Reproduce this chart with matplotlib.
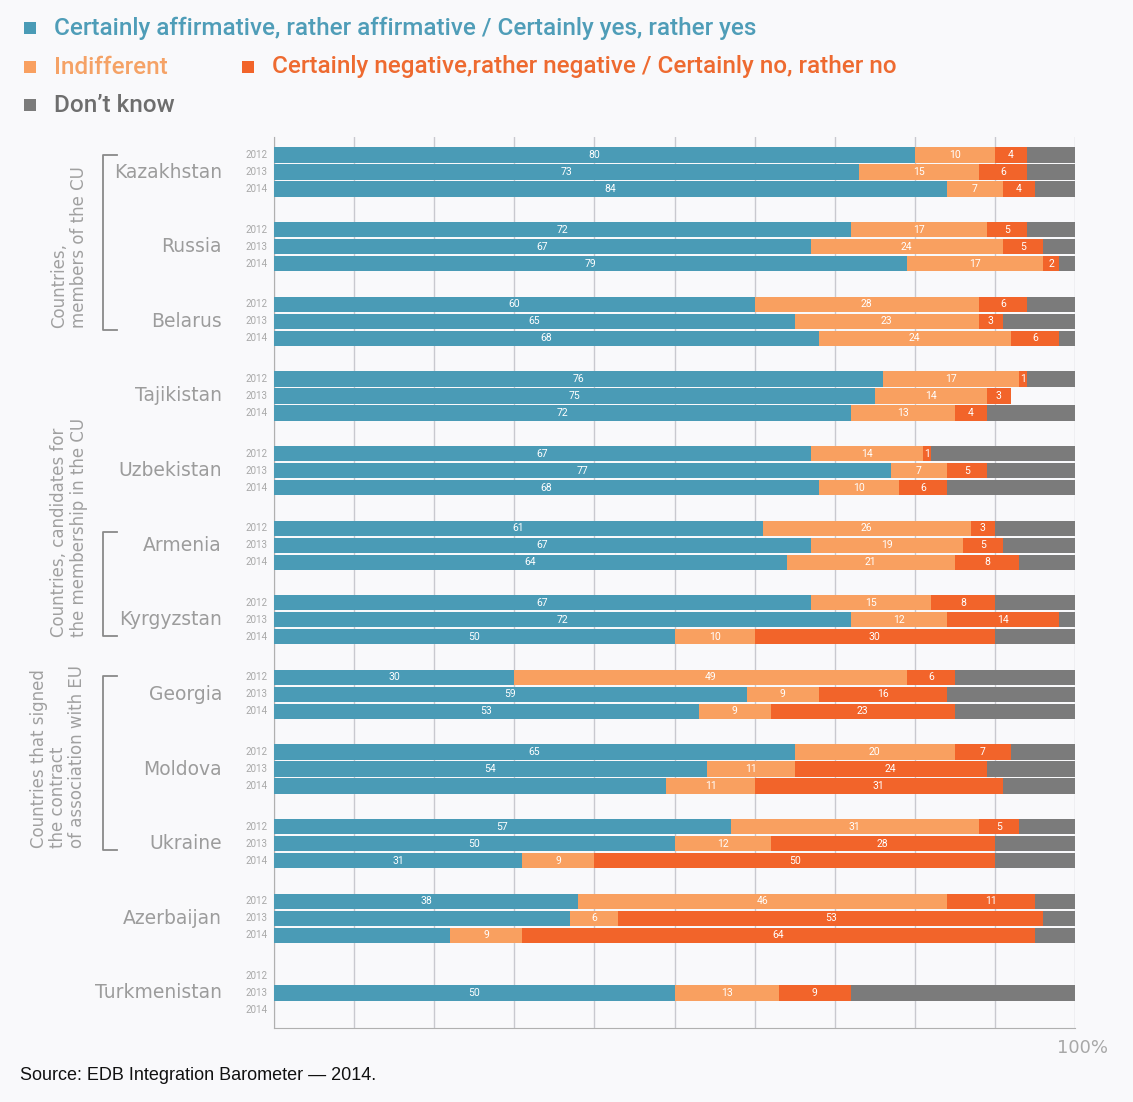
import matplotlib
matplotlib.use('Agg')
import matplotlib.pyplot as plt
from matplotlib.patches import Rectangle
from matplotlib.lines import Line2D

# ---- survey data (shares, %) ----
countries = ['Kazakhstan', 'Russia', 'Belarus', 'Tajikistan', 'Uzbekistan',
             'Armenia', 'Kyrgyzstan', 'Georgia', 'Moldova', 'Ukraine',
             'Azerbaijan', 'Turkmenistan']
years = ['2012', '2013', '2014']

yes_share = [[80, 73, 84], [72, 67, 79], [60, 65, 68], [76, 75, 72],
             [67, 77, 68], [61, 67, 64], [67, 72, 50], [30, 59, 53],
             [65, 54, 49], [57, 50, 31], [38, 37, 22], [None, 50, None]]
indifferent_share = [[10, 15, 7], [17, 24, 17], [28, 23, 24], [17, 14, 13],
                     [14, 7, 10], [26, 19, 21], [15, 12, 10], [49, 9, 9],
                     [20, 11, 11], [31, 12, 9], [46, 6, 9], [None, 13, None]]
no_share = [[4, 6, 4], [5, 5, 2], [6, 3, 6], [1, 3, 4],
            [1, 5, 6], [3, 5, 8], [8, 14, 30], [6, 16, 23],
            [7, 24, 31], [5, 28, 50], [11, 53, 64], [None, 9, None]]
dont_know_share = [[6, 6, 5], [6, 4, 2], [6, 9, 2], [6, 0, 11],
                   [18, 11, 16], [10, 9, 7], [10, 2, 10], [15, 16, 15],
                   [8, 11, 9], [7, 10, 10], [5, 4, 5], [None, 28, None]]

# "yes" segments printed without a number
unlabelled_yes = [('Moldova', '2014'), ('Azerbaijan', '2013'), ('Azerbaijan', '2014')]

series_names = ['Certainly affirmative, rather affirmative / Certainly yes, rather yes',
                'Indifferent',
                'Certainly negative,rather negative / Certainly no, rather no',
                "Don\u2019t know"]

group_labels = ['Countries,\nmembers of the CU',
                'Countries, candidates for\nthe membership in the CU',
                'Countries that signed\nthe contract\nof association with EU']

# ---- styling ----
BLUE = '#4a9bb6'
ORANGE = '#f9a060'
RED = '#f2642a'
GREY = '#7b7b7b'
BG = '#f9f9fb'
TXT = '#9c9c9c'
colors = [BLUE, ORANGE, RED, GREY]
text_colors = ['#4f9db8', '#f5a266', '#ee6a30', '#6e6e6e']

W, H = 1133, 1102
fig = plt.figure(figsize=(W / 100, H / 100), dpi=100, facecolor=BG)


def fx(x):
    return x / W


def fy(y):
    return 1 - y / H


ax = fig.add_axes([fx(274), fy(1028), fx(1075) - fx(274), fy(137) - fy(1028)])
ax.set_facecolor(BG)

group_step = 4.39
bar_h = 0.9
for g, country in enumerate(countries):
    for k, yr in enumerate(years):
        y = g * group_step + k
        ax.text(-0.8, y, yr, ha='right', va='center', fontsize=7,
                color='#a8a8a8', family='Roboto', clip_on=False)
        segs = [yes_share[g][k], indifferent_share[g][k], no_share[g][k], dont_know_share[g][k]]
        if segs[0] is None:
            continue
        left = 0
        for s, (val, col) in enumerate(zip(segs, colors)):
            if val:
                ax.barh(y, val, left=left, height=bar_h, color=col, zorder=3, linewidth=0)
                show = s < 3 and not (s == 0 and (country, yr) in unlabelled_yes)
                if show:
                    ax.text(left + val / 2, y, str(val), ha='center', va='center',
                            fontsize=7.5, color='white', family='Roboto', zorder=4)
            left += val
    ax.text(-6.5, g * group_step + 1, country, ha='right', va='center', fontsize=13.5,
            color=TXT, family='DejaVu Sans', clip_on=False)

ax.set_xlim(0, 100)
ax.set_ylim((1028 - 155) / 17, -18 / 17)
ax.set_xticks(range(0, 101, 10))
ax.set_yticks([])
ax.tick_params(axis='x', length=0, labelbottom=False)
ax.grid(axis='x', color='#c9c9cf', linewidth=1.0, zorder=0)
for side in ['top', 'right']:
    ax.spines[side].set_visible(False)
ax.spines['left'].set_color('#b0b0b0')
ax.spines['bottom'].set_color('#b0b0b0')

# ---- legend ----
legend_items = [(0, 30, 28), (1, 30, 67), (2, 248, 67), (3, 30, 105)]
for idx, x0, y0 in legend_items:
    fig.patches.append(Rectangle((fx(x0 - 6), fy(y0 + 6)), 12 / W, 12 / H,
                                 transform=fig.transFigure, facecolor=colors[idx],
                                 edgecolor='none'))
    fig.text(fx(x0 + 24), fy(y0), series_names[idx], ha='left', va='center',
             fontsize=17.5, color=text_colors[idx], family='Roboto', fontweight='medium')

# ---- group brackets and captions ----
brackets = [(155, 330), (532, 636), (676, 850)]
for (top, bot) in brackets:
    fig.add_artist(Line2D([fx(117), fx(103), fx(103), fx(117)],
                          [fy(top), fy(top), fy(bot), fy(bot)],
                          transform=fig.transFigure, color='#8a8a8a', linewidth=1.3))

caption_pos = [(69, 328), (69, 637), (58, 848)]
for text, (x0, y0) in zip(group_labels, caption_pos):
    fig.text(fx(x0), fy(y0), text, rotation=90, ha='center', va='bottom',
             multialignment='left', fontsize=12, color='#a0a0a0',
             family='DejaVu Sans', linespacing=1.08)

fig.text(fx(1108), fy(1048), '100%', ha='right', va='center', fontsize=13,
         color='#a8a8a8', family='DejaVu Sans')
fig.text(fx(20), fy(1075), 'Source: EDB Integration Barometer \u2014 2014.', ha='left',
         va='center', fontsize=13, color='#111111', family='Liberation Sans')

fig.savefig('out.png', dpi=100, facecolor=BG)
